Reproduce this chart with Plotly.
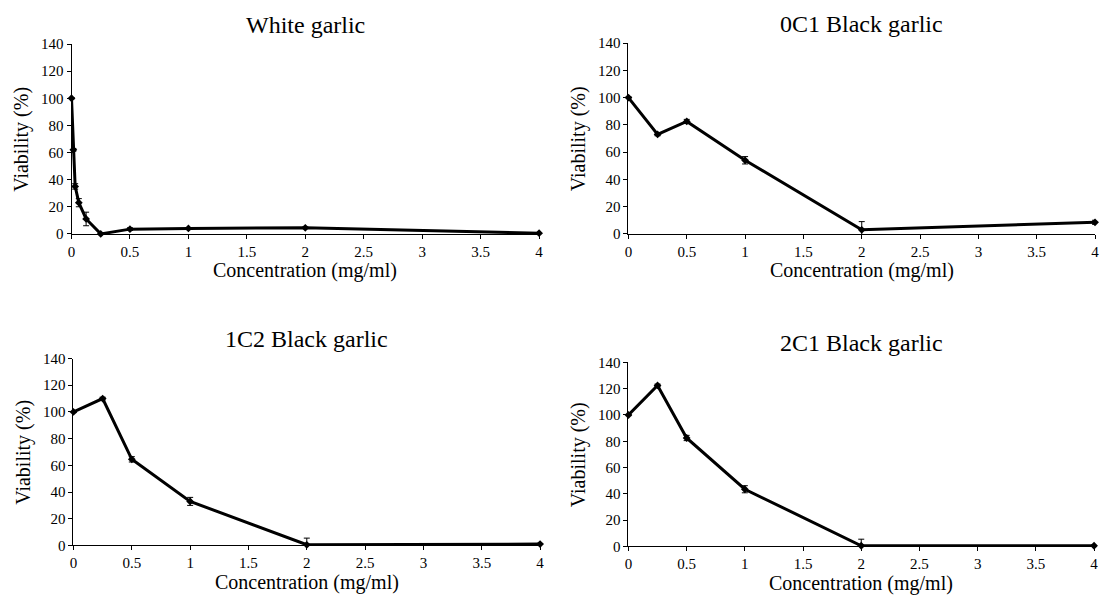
import plotly.graph_objects as go

# Data
white_x = [0, 0.015625, 0.03125, 0.0625, 0.125, 0.25, 0.5, 1, 2, 4]
white_y = [100, 62, 35, 23, 11, 0, 3.5, 4, 4.5, 0.5]
white_err = [0.5, 1, 2, 3, 5, 0.5, 1, 0.5, 0.5, 0.5]

bg_x = [0, 0.25, 0.5, 1, 2, 4]
c01_y = [100, 73, 82.5, 54, 3, 8.5]
c01_err = [0.5, 1, 1.5, 2.7, 6, 1.5]
c12_y = [100, 110, 64.5, 33, 0.5, 1]
c12_err = [0.5, 1, 2, 3, 5, 0.5]
c21_y = [100, 122.5, 82.5, 43.5, 0.5, 0.5]
c21_err = [0.5, 1, 2, 2.7, 5, 0.5]

titles = ["White garlic", "0C1 Black garlic", "1C2 Black garlic", "2C1 Black garlic"]
x_ticks = [0, 0.5, 1, 1.5, 2, 2.5, 3, 3.5, 4]
x_tick_text = ["0", "0.5", "1", "1.5", "2", "2.5", "3", "3.5", "4"]
y_ticks = [0, 20, 40, 60, 80, 100, 120, 140]

series = [(white_x, white_y, white_err), (bg_x, c01_y, c01_err),
          (bg_x, c12_y, c12_err), (bg_x, c21_y, c21_err)]

W, H = 1104, 607
# pixel boxes: (left, right, top, bottom)
boxes = [(68, 539, 37, 232), (629, 1099, 36, 232), (70, 540, 360, 552), (629, 1098, 364, 553)]
FONT = "Liberation Serif"

fig = go.Figure()
annotations = []
axes = {}
for i, ((xs, ys, es), (l, r, t, b)) in enumerate(zip(series, boxes)):
    n = "" if i == 0 else str(i + 1)
    fig.add_trace(go.Scatter(
        x=xs, y=ys, mode="lines+markers",
        line=dict(color="black", width=3),
        marker=dict(symbol="diamond", size=6, color="black"),
        error_y=dict(type="data", array=es, color="black", thickness=1, width=3),
        xaxis="x" + n, yaxis="y" + n, cliponaxis=False,
    ))
    axes["xaxis" + n] = dict(
        domain=[l / W, r / W], anchor="y" + n, range=[0, 4],
        tickvals=x_ticks, ticktext=x_tick_text, showgrid=False, zeroline=False,
        showline=True, linecolor="black", linewidth=1, ticks="outside", ticklen=4,
        tickcolor="black", tickfont=dict(family=FONT, size=15),
    )
    axes["yaxis" + n] = dict(
        domain=[1 - b / H, 1 - t / H], anchor="x" + n, range=[0, 140],
        tickvals=y_ticks, showgrid=False, zeroline=False,
        showline=True, linecolor="black", linewidth=1, ticks="outside", ticklen=4,
        tickcolor="black", tickfont=dict(family=FONT, size=15),
    )
    cx = (l + r) / 2 / W
    annotations.append(dict(text=titles[i], x=cx, y=1 - (t - 20) / H, xref="paper", yref="paper",
                            showarrow=False, font=dict(family=FONT, size=24),
                            xanchor="center", yanchor="middle"))
    annotations.append(dict(text="Concentration (mg/ml)", x=cx, y=1 - (b + 38) / H,
                            xref="paper", yref="paper", showarrow=False,
                            font=dict(family=FONT, size=20),
                            xanchor="center", yanchor="middle"))
    annotations.append(dict(text="Viability (%)", x=(l - 50) / W, y=1 - (t + b) / 2 / H,
                            xref="paper", yref="paper", showarrow=False, textangle=-90,
                            font=dict(family=FONT, size=20),
                            xanchor="center", yanchor="middle"))

fig.update_layout(
    width=W, height=H, margin=dict(l=0, r=0, t=0, b=0),
    paper_bgcolor="white", plot_bgcolor="white", showlegend=False,
    font=dict(family=FONT, color="black"),
    annotations=annotations, **axes,
)
fig.write_html("out.html")
